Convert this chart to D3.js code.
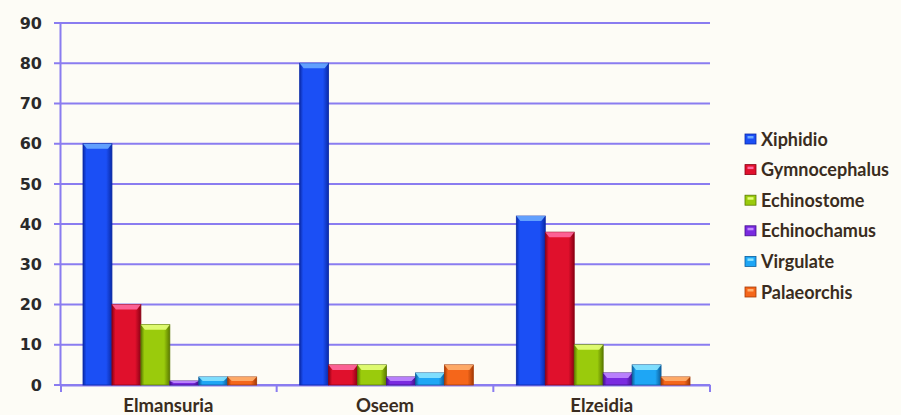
<!DOCTYPE html>
<html>
<head>
<title>Grouped bars</title>
<script src="https://d3js.org/d3.v7.min.js"></script>
<style>
  body { margin: 0; background: #fdfcf6; }
</style>
</head>
<body>
<div id="chart"></div>
<script>
// chart data
var categories = ["Elmansuria", "Oseem", "Elzeidia"]
var seriesNames = ["Xiphidio", "Gymnocephalus", "Echinostome", "Echinochamus", "Virgulate", "Palaeorchis"]
var xiphidio = [60, 80, 42]
var gymnocephalus = [20, 5, 38]
var echinostome = [15, 5, 10]
var echinochamus = [1, 2, 3]
var virgulate = [2, 3, 5]
var palaeorchis = [2, 5, 2]
var yTicks = [0, 10, 20, 30, 40, 50, 60, 70, 80, 90]

var seriesValues = [xiphidio, gymnocephalus, echinostome, echinochamus, virgulate, palaeorchis]
var colors = ["#1b4ff5", "#e0102c", "#9acb0c", "#7a2ae0", "#1ea6f5", "#f5661a"]
var darks = ["#0a2aa8", "#8c0014", "#5b7a00", "#43108a", "#0c5e9c", "#a43a05"]
var lights = ["#6aa8ff", "#ff6aa0", "#e6ff7a", "#c08aff", "#8ae4ff", "#ffb070"]

var W = 901, H = 415
var plot = { left: 60, right: 710, top: 23, bottom: 385 }

var svg = d3.select("#chart").append("svg")
    .attr("width", W)
    .attr("height", H)

svg.append("rect").attr("width", W).attr("height", H).attr("fill", "#fdfcf6")

var defs = svg.append("defs")
colors.forEach(function (c, i) {
    var g = defs.append("linearGradient").attr("id", "g" + i)
        .attr("x1", "0").attr("x2", "1").attr("y1", "0").attr("y2", "0")
    g.append("stop").attr("offset", "0%").attr("stop-color", darks[i])
    g.append("stop").attr("offset", "12%").attr("stop-color", c)
    g.append("stop").attr("offset", "80%").attr("stop-color", c)
    g.append("stop").attr("offset", "100%").attr("stop-color", darks[i])
})

var x0 = d3.scaleBand()
    .domain(categories)
    .range([plot.left, plot.right])
    .paddingInner(0)
    .paddingOuter(0)

var x1 = d3.scaleBand()
    .domain(seriesNames)
    .range([23, x0.bandwidth() - 20])
    .padding(0)

var y = d3.scaleLinear()
    .domain([0, 90])
    .range([plot.bottom, plot.top])

// gridlines
svg.append("g")
    .selectAll("line")
    .data(yTicks)
    .enter().append("line")
    .attr("x1", plot.left - 6)
    .attr("x2", plot.right)
    .attr("y1", function (d) { return y(d) })
    .attr("y2", function (d) { return y(d) })
    .attr("stroke", "#8a7cf0")
    .attr("stroke-width", 2)

// y axis
var yAxis = svg.append("g")
    .attr("transform", "translate(" + plot.left + ",0)")
    .call(d3.axisLeft(y).tickValues(yTicks).tickSize(0).tickPadding(18))
yAxis.select(".domain").attr("stroke", "#8a7cf0").attr("stroke-width", 2)
yAxis.selectAll("text")
    .attr("fill", "#2a2a2a")
    .style("font-family", "DejaVu Sans")
    .style("font-weight", "bold")
    .style("font-size", "16px")

// x axis
var xAxis = svg.append("g")
    .attr("transform", "translate(0," + plot.bottom + ")")
    .call(d3.axisBottom(x0).tickSize(0).tickPadding(14))
xAxis.select(".domain").attr("stroke", "#8a7cf0").attr("stroke-width", 2)
xAxis.selectAll("text")
    .attr("fill", "#3a2c20")
    .style("font-family", "Lato")
    .style("font-weight", "700")
    .style("font-size", "18.5px")

// category separators
svg.append("g")
    .selectAll("line")
    .data([plot.left + 1].concat(categories.map(function (c) { return x0(c) + x0.bandwidth() })))
    .enter().append("line")
    .attr("x1", function (d) { return d })
    .attr("x2", function (d) { return d })
    .attr("y1", plot.bottom)
    .attr("y2", plot.bottom + 7)
    .attr("stroke", "#8a7cf0")
    .attr("stroke-width", 2)

// bars
var groups = svg.append("g")
    .selectAll("g")
    .data(categories)
    .enter().append("g")
    .attr("transform", function (c) { return "translate(" + x0(c) + ",0)" })

groups.each(function (c, ci) {
    var g = d3.select(this)
    seriesNames.forEach(function (s, si) {
        var v = seriesValues[si][ci]
        var bx = x1(s), bw = x1.bandwidth()
        var top = y(v), h = y(0) - y(v)
        g.append("rect")
            .attr("x", bx)
            .attr("y", top)
            .attr("width", bw)
            .attr("height", h)
            .attr("fill", "url(#g" + si + ")")
            .attr("stroke", darks[si])
            .attr("stroke-width", 0.8)
        // top bevel
        var bev = Math.min(5, h / 2)
        g.append("path")
            .attr("d", "M" + bx + "," + top + "L" + (bx + bw) + "," + top +
                "L" + (bx + bw - 4) + "," + (top + bev) + "L" + (bx + 4) + "," + (top + bev) + "Z")
            .attr("fill", lights[si])
            .attr("opacity", 0.9)
    })
})

// legend
var legend = svg.append("g")
    .attr("transform", "translate(745,131)")
var items = legend.selectAll("g")
    .data(seriesNames)
    .enter().append("g")
    .attr("transform", function (d, i) { return "translate(0," + (i * 30.6) + ")" })
items.append("rect")
    .attr("x", 0).attr("y", 3)
    .attr("width", 11).attr("height", 10)
    .attr("fill", function (d, i) { return colors[i] })
    .attr("stroke", function (d, i) { return darks[i] })
    .attr("stroke-width", 0.8)
items.append("rect")
    .attr("x", 2.5).attr("y", 5)
    .attr("width", 6).attr("height", 2.5)
    .attr("fill", function (d, i) { return lights[i] })
items.append("text")
    .attr("x", 16)
    .attr("y", 14.5)
    .attr("fill", "#3a2c20")
    .style("font-family", "Lato")
    .style("font-weight", "700")
    .style("font-size", "18px")
    .text(function (d) { return d })
</script>
</body>
</html>
